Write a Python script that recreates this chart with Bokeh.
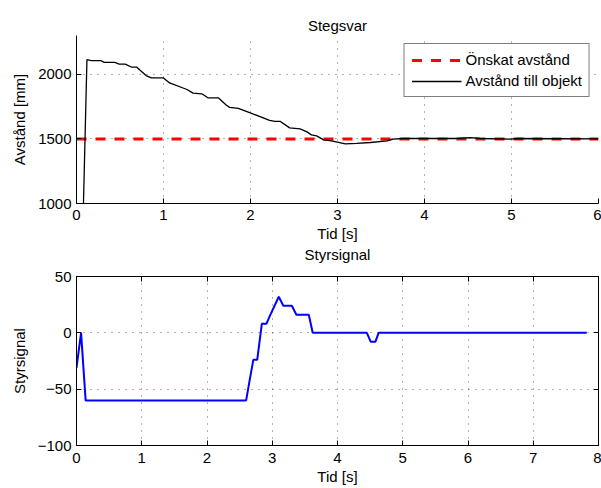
from bokeh.plotting import figure
from bokeh.layouts import column
from bokeh.models import (Range1d, LinearAxis, FixedTicker, CustomJSTickFormatter,
                          Legend, LegendItem, Title)
from bokeh.embed import file_html
from bokeh.resources import INLINE

# ---- data ----
t_avstand = [0.08, 0.12, 0.17, 0.28, 0.32, 0.44, 0.49, 0.56, 0.63, 0.69, 0.80, 0.86,
             1.00, 1.07, 1.24, 1.27, 1.34, 1.44, 1.51, 1.63, 1.72, 1.76, 1.86, 1.99,
             2.22, 2.28, 2.34, 2.45, 2.57, 2.65, 2.70, 2.76, 2.84, 2.93, 3.09, 3.22,
             3.38, 3.57, 3.64, 3.76, 4.37, 4.53, 4.64, 4.99, 5.07, 6.00]
avstand = [1000, 2113, 2105, 2105, 2092, 2092, 2079, 2079, 2056, 2056, 1990, 1972,
           1972, 1933, 1890, 1882, 1854, 1849, 1818, 1818, 1762, 1744, 1736, 1703,
           1644, 1636, 1636, 1585, 1577, 1554, 1531, 1523, 1492, 1485, 1462, 1465,
           1472, 1485, 1498, 1503, 1503, 1510, 1503, 1498, 1503, 1500]
t_onskat = [0.0, 6.0]
onskat = [1500, 1500]

t_styr = [0.00, 0.07, 0.14, 2.60, 2.66, 2.71, 2.77, 2.84, 2.91, 2.97, 3.10, 3.17,
          3.30, 3.37, 3.56, 3.62, 4.45, 4.51, 4.58, 4.63, 7.82]
styr = [-31, 0, -60, -60, -40, -24, -24, 8, 8, 16, 32, 24,
        24, 16, 16, 0, 0, -8, -8, 0, 0]

x1_ticks = [0, 1, 2, 3, 4, 5, 6]
y1_ticks = [1000, 1500, 2000]
x2_ticks = [0, 1, 2, 3, 4, 5, 6, 7, 8]
y2_ticks = [-100, -50, 0, 50]

FONT = "Liberation Sans"
FS = "15px"

fmt = CustomJSTickFormatter(code="return tick < 0 ? '\u2212' + Math.abs(tick) : String(tick);")
blank_fmt = CustomJSTickFormatter(code="return '';")


def style_axis(ax, ticks, labels=True):
    ax.ticker = FixedTicker(ticks=ticks)
    ax.axis_line_color = "black"
    ax.axis_line_width = 1
    ax.major_tick_in = 5
    ax.major_tick_out = 0
    ax.major_tick_line_color = "black"
    ax.minor_tick_line_color = None
    ax.major_label_text_font = FONT
    ax.major_label_text_color = "black"
    ax.axis_label_text_font = FONT
    ax.axis_label_text_font_style = "normal"
    ax.axis_label_text_color = "black"
    ax.axis_label_text_font_size = FS
    if labels:
        ax.formatter = fmt
        ax.major_label_text_font_size = FS
    else:
        ax.formatter = blank_fmt
        ax.major_label_text_font_size = "1px"
        ax.major_label_standoff = 0


def style_fig(p, xt, yt):
    style_axis(p.xaxis[0], xt)
    style_axis(p.yaxis[0], yt)
    p.yaxis[0].major_label_standoff = 5
    p.yaxis[0].axis_label_standoff = 7
    p.xgrid.ticker = FixedTicker(ticks=xt)
    p.ygrid.ticker = FixedTicker(ticks=yt)
    p.grid.grid_line_color = "black"
    p.grid.grid_line_alpha = 0.6
    p.grid.grid_line_dash = "1 6"
    p.grid.grid_line_width = 1
    p.background_fill_color = "white"
    p.border_fill_color = "white"


def style_title(t):
    t.align = "center"
    t.text_font = FONT
    t.text_font_size = FS
    t.text_font_style = "normal"
    t.text_color = "black"


# ---- top plot ----
p1 = figure(frame_width=522, frame_height=168, output_backend="svg", toolbar_location=None,
            x_range=Range1d(0, 6), y_range=Range1d(1000, 2300),
            title="Stegsvar", x_axis_label="Tid [s]", y_axis_label="Avstånd [mm]",
            min_border_left=76, min_border_right=3, min_border_top=35, min_border_bottom=61)
style_fig(p1, x1_ticks, y1_ticks)
style_title(p1.title)
p1.title.vertical_align = "top"
p1.title.standoff = 0
p1.xaxis[0].major_label_standoff = 6
p1.xaxis[0].axis_label_standoff = 2
p1.outline_line_color = None

r_red = p1.line(t_onskat, onskat, line_color="#FF0000", line_width=3, line_dash="10 9")
r_blk = p1.line(t_avstand, avstand, line_color="black", line_width=1.3)

legend = Legend(items=[LegendItem(label="Önskat avstånd", renderers=[r_red]),
                       LegendItem(label="Avstånd till objekt", renderers=[r_blk])],
                location="top_right")
legend.label_text_font = FONT
legend.label_text_font_size = FS
legend.label_text_color = "black"
legend.glyph_width = 50
legend.glyph_height = 14
legend.label_height = 14
legend.label_standoff = 4
legend.spacing = 4
legend.padding = 7
legend.margin = 8
legend.border_line_color = "black"
legend.border_line_width = 1
legend.background_fill_color = "white"
legend.background_fill_alpha = 1
p1.add_layout(legend)

# title of the lower panel, placed under the upper figure's x-axis label
t2 = Title(text="Styrsignal")
style_title(t2)
t2.vertical_align = "top"
t2.standoff = 3
p1.add_layout(t2, "below")

# ---- bottom plot ----
p2 = figure(frame_width=522, frame_height=169, output_backend="svg", toolbar_location=None,
            x_range=Range1d(0, 8), y_range=Range1d(-100, 50),
            x_axis_label="Tid [s]", y_axis_label="Styrsignal",
            min_border_left=76, min_border_right=3, min_border_top=10, min_border_bottom=43)
style_fig(p2, x2_ticks, y2_ticks)
p2.xaxis[0].major_label_standoff = 7
p2.xaxis[0].axis_label_standoff = 2
p2.outline_line_color = "black"

ax_top = LinearAxis()
style_axis(ax_top, x2_ticks, labels=False)
p2.add_layout(ax_top, "above")
ax_right = LinearAxis()
style_axis(ax_right, y2_ticks, labels=False)
p2.add_layout(ax_right, "right")

p2.line(t_styr, styr, line_color="#0000FF", line_width=2)

layout = column(p1, p2, spacing=0)
open("out.html", "w").write(file_html(layout, INLINE))
